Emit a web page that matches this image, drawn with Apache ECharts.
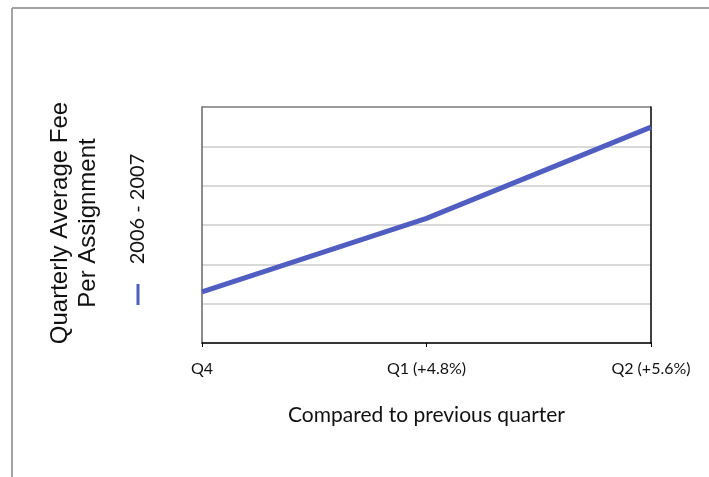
<!DOCTYPE html>
<html>
<head>
<meta charset="utf-8">
<script src="https://cdn.jsdelivr.net/npm/echarts@6/dist/echarts.min.js"></script>
<style>
  html, body { margin: 0; padding: 0; background: #fff; }
  #chart { width: 709px; height: 477px; }
</style>
</head>
<body>
<div id="chart"></div>
<script>
// Quarterly average fee per assignment, 2006 - 2007
const categories = ['Q4', 'Q1 (+4.8%)', 'Q2 (+5.6%)'];
const seriesName = '2006 - 2007';
const feeValues = [1.3, 3.17, 5.49];
const yTitle = ['Quarterly Average Fee', 'Per Assignment'];
const xTitle = 'Compared to previous quarter';

const lineColor = '#4f5ec0';
const labelFont = 'Lato, "Open Sans", sans-serif';

const chart = echarts.init(document.getElementById('chart'), null, { renderer: 'canvas' });

chart.setOption({
  backgroundColor: '#ffffff',
  animation: false,
  grid: { left: 202, top: 107, width: 449, height: 236, containLabel: false },
  xAxis: {
    type: 'category',
    data: categories,
    boundaryGap: false,
    axisLine: { lineStyle: { color: '#000', width: 1.5 } },
    axisTick: { show: true, inside: false, length: 4, lineStyle: { color: '#000' } },
    axisLabel: { color: '#111', fontSize: 16, fontFamily: labelFont, margin: 18 },
    splitLine: { show: false },
    name: xTitle,
    nameLocation: 'middle',
    nameGap: 62,
    nameTextStyle: { color: '#111', fontSize: 21, fontFamily: labelFont, verticalAlign: 'top' }
  },
  yAxis: [
    {
      type: 'value',
      min: 0,
      max: 6,
      interval: 1,
      axisLine: { show: true, lineStyle: { color: '#666', width: 1.5 } },
      axisTick: { show: false },
      axisLabel: { show: false },
      splitLine: {
        show: true,
        lineStyle: { color: ['#cccccc', '#cccccc', '#cccccc', '#cccccc', '#cccccc', '#cccccc', '#7a7a7a'], width: 1.5 }
      }
    },
    {
      type: 'value',
      position: 'right',
      min: 0,
      max: 6,
      interval: 1,
      axisLine: { show: true, lineStyle: { color: '#000', width: 1.5 } },
      axisTick: { show: false },
      axisLabel: { show: false },
      splitLine: { show: false }
    }
  ],
  series: [{
    name: seriesName,
    type: 'line',
    data: feeValues,
    showSymbol: false,
    symbol: 'none',
    lineStyle: { color: lineColor, width: 5 },
    z: 5
  }],
  graphic: [
    // outer frame edges
    { type: 'line', shape: { x1: 12, y1: 8, x2: 709, y2: 8 }, style: { stroke: '#a3a3a3', lineWidth: 2 } },
    { type: 'line', shape: { x1: 12, y1: 8, x2: 12, y2: 477 }, style: { stroke: '#a3a3a3', lineWidth: 2 } },
    // rotated value-axis title
    {
      type: 'text',
      x: 74, y: 223,
      rotation: Math.PI / 2,
      style: {
        text: yTitle.join('\n'),
        fontSize: 24,
        lineHeight: 28,
        fontFamily: '"Liberation Sans", Arial, sans-serif',
        fill: '#111',
        align: 'center',
        verticalAlign: 'middle'
      }
    },
    // rotated legend
    {
      type: 'text',
      x: 138, y: 209,
      rotation: Math.PI / 2,
      style: {
        text: seriesName,
        fontSize: 20,
        fontFamily: labelFont,
        fill: '#111',
        align: 'center',
        verticalAlign: 'middle'
      }
    },
    { type: 'line', shape: { x1: 138, y1: 284, x2: 138, y2: 305 }, style: { stroke: lineColor, lineWidth: 3 } }
  ]
});
</script>
</body>
</html>
